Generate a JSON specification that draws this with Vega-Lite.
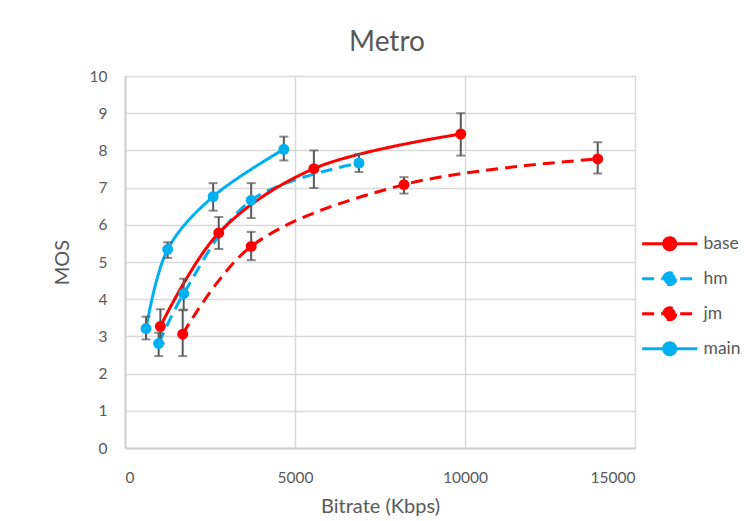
{
  "$schema": "https://vega.github.io/schema/vega-lite/v6.json",
  "width": 510,
  "height": 372,
  "autosize": {"type": "none"},
  "padding": {"left": 125, "top": 76, "right": 119, "bottom": 73},
  "background": "white",
  "title": {
    "text": "Metro",
    "fontSize": 28,
    "font": "Lato",
    "fontWeight": "normal",
    "color": "#595959",
    "baseline": "alphabetic",
    "offset": 24,
    "dy": 34,
    "dx": 7
  },
  "config": {
    "font": "Lato",
    "view": {"stroke": null},
    "axis": {
      "labelFont": "Lato",
      "labelFontSize": 15.5,
      "labelColor": "#595959",
      "labelOverlap": false,
      "titleFont": "Lato",
      "titleFontSize": 20,
      "titleFontWeight": "normal",
      "titleColor": "#595959",
      "gridColor": "#d9d9d9",
      "gridWidth": 1.5,
      "domainColor": "#d0d0d0",
      "domainWidth": 2,
      "ticks": false
    }
  },
  "data": {
    "values": [
      {"series": "main", "bitrate": 619, "mos": 3.21, "lo": 2.92, "hi": 3.53},
      {"series": "main", "bitrate": 1255, "mos": 5.34, "lo": 5.11, "hi": 5.53},
      {"series": "main", "bitrate": 2592, "mos": 6.76, "lo": 6.38, "hi": 7.12},
      {"series": "main", "bitrate": 4672, "mos": 8.03, "lo": 7.73, "hi": 8.37},
      {"series": "hm", "bitrate": 990, "mos": 2.81, "lo": 2.47, "hi": 3.1},
      {"series": "hm", "bitrate": 1726, "mos": 4.15, "lo": 3.72, "hi": 4.55},
      {"series": "hm", "bitrate": 3711, "mos": 6.66, "lo": 6.18, "hi": 7.12},
      {"series": "hm", "bitrate": 6881, "mos": 7.66, "lo": 7.42, "hi": 7.9},
      {"series": "base", "bitrate": 1040, "mos": 3.27, "lo": 2.81, "hi": 3.73},
      {"series": "base", "bitrate": 2757, "mos": 5.78, "lo": 5.35, "hi": 6.21},
      {"series": "base", "bitrate": 5555, "mos": 7.51, "lo": 6.99, "hi": 8.0},
      {"series": "base", "bitrate": 9876, "mos": 8.44, "lo": 7.86, "hi": 9.0},
      {"series": "jm", "bitrate": 1697, "mos": 3.06, "lo": 2.47, "hi": 3.7},
      {"series": "jm", "bitrate": 3711, "mos": 5.42, "lo": 5.05, "hi": 5.81},
      {"series": "jm", "bitrate": 8206, "mos": 7.08, "lo": 6.84, "hi": 7.28},
      {"series": "jm", "bitrate": 13903, "mos": 7.77, "lo": 7.38, "hi": 8.22}
    ]
  },
  "encoding": {
    "x": {
      "field": "bitrate",
      "type": "quantitative",
      "scale": {"domain": [0, 15000], "nice": false},
      "axis": {"values": [0, 5000, 10000, 15000], "format": "d", "title": "Bitrate (Kbps)", "labelPadding": 22, "titlePadding": 11}
    }
  },
  "layer": [
    {
      "mark": {"type": "line", "interpolate": "catmull-rom", "strokeWidth": 3},
      "encoding": {
        "y": {
          "field": "mos",
          "type": "quantitative",
          "scale": {"domain": [0, 10], "nice": false},
          "axis": {"values": [0, 1, 2, 3, 4, 5, 6, 7, 8, 9, 10], "title": "MOS", "labelPadding": 18, "titlePadding": 17}
        },
        "color": {
          "field": "series",
          "type": "nominal",
          "scale": {"domain": ["base", "hm", "jm", "main"], "range": ["#FF0000", "#00B0F0", "#FF0000", "#00B0F0"]},
          "legend": {
            "title": null,
            "orient": "none",
            "legendX": 536,
            "legendY": 159,
            "symbolType": "M-4.6,0H4.6M1,0A1,1,0,1,1,-1,0A1,1,0,1,1,1,0Z",
            "symbolSize": 144,
            "symbolStrokeWidth": 3,
            "labelFont": "Lato",
            "labelFontSize": 17.5,
            "labelColor": "#595959",
            "labelOffset": 25,
            "rowPadding": 10,
            "encode": {"symbols": {"update": {"fill": {"scale": "color", "field": "value"}, "fillOpacity": {"value": 1}}}}
          }
        },
        "strokeDash": {
          "field": "series",
          "type": "nominal",
          "scale": {"domain": ["base", "hm", "jm", "main"], "range": [[1, 0], [12, 7], [12, 7], [1, 0]]},
          "legend": {"title": null}
        }
      }
    },
    {
      "mark": {"type": "rule", "color": "#595959", "strokeWidth": 2},
      "encoding": {
        "y": {"field": "lo", "type": "quantitative", "axis": {"values": [0, 1, 2, 3, 4, 5, 6, 7, 8, 9, 10], "title": "MOS", "labelPadding": 18, "titlePadding": 17}},
        "y2": {"field": "hi"}
      }
    },
    {
      "mark": {"type": "tick", "orient": "horizontal", "color": "#595959", "size": 9, "thickness": 2},
      "encoding": {"y": {"field": "hi", "type": "quantitative", "axis": {"values": [0, 1, 2, 3, 4, 5, 6, 7, 8, 9, 10], "title": "MOS", "labelPadding": 18, "titlePadding": 17}}}
    },
    {
      "mark": {"type": "tick", "orient": "horizontal", "color": "#595959", "size": 9, "thickness": 2},
      "encoding": {"y": {"field": "lo", "type": "quantitative", "axis": {"values": [0, 1, 2, 3, 4, 5, 6, 7, 8, 9, 10], "title": "MOS", "labelPadding": 18, "titlePadding": 17}}}
    },
    {
      "mark": {"type": "point", "filled": true, "size": 120, "opacity": 1},
      "encoding": {
        "y": {"field": "mos", "type": "quantitative", "axis": {"values": [0, 1, 2, 3, 4, 5, 6, 7, 8, 9, 10], "title": "MOS", "labelPadding": 18, "titlePadding": 17}},
        "fill": {
          "field": "series",
          "type": "nominal",
          "scale": {"domain": ["base", "hm", "jm", "main"], "range": ["#FF0000", "#00B0F0", "#FF0000", "#00B0F0"]},
          "legend": null
        }
      }
    }
  ]
}
